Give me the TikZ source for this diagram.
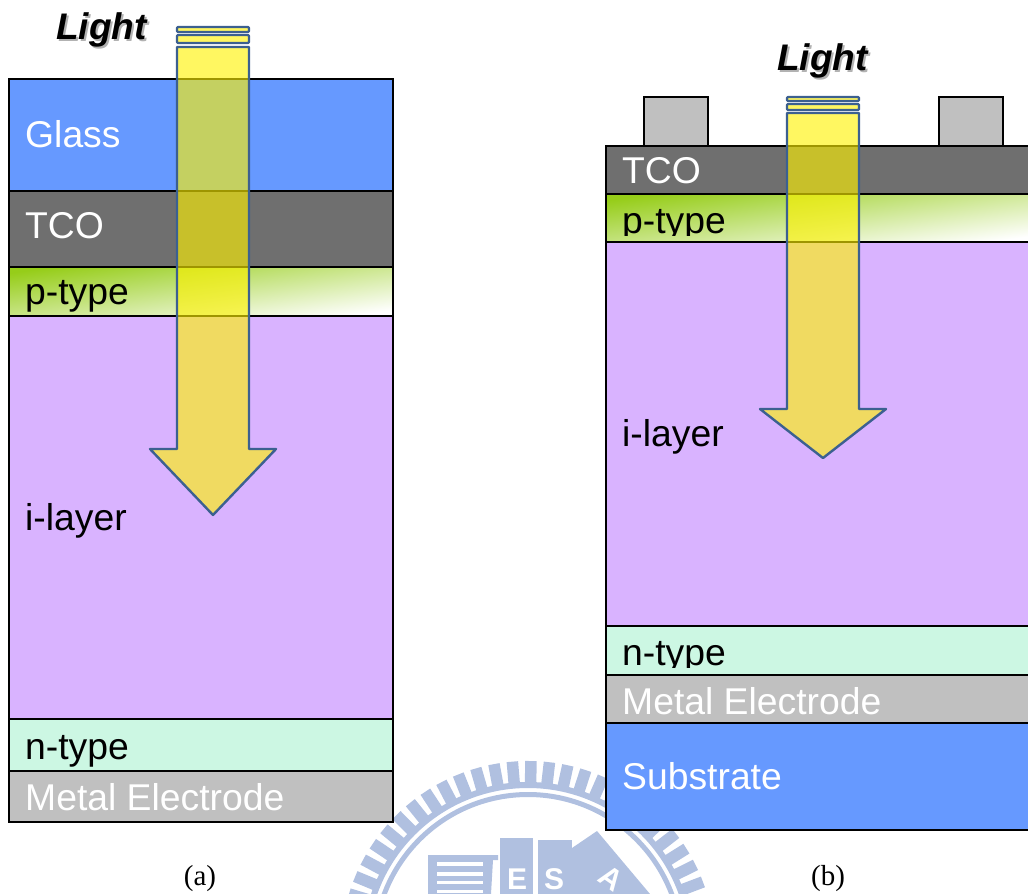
\documentclass[tikz,border=0pt]{standalone}
\usepackage{fontspec}
\setmainfont{Liberation Sans}
\newfontfamily\capfont{Liberation Serif}
\usepackage{xcolor}
\usetikzlibrary{positioning,calc}
\definecolor{glassblue}{RGB}{102,153,255}
\definecolor{tcogray}{RGB}{111,111,111}
\definecolor{ililac}{RGB}{217,179,255}
\definecolor{nmint}{RGB}{204,247,227}
\definecolor{metalgray}{RGB}{192,192,192}
\definecolor{pgreen}{RGB}{150,205,25}
\definecolor{beamedge}{RGB}{60,96,144}
\definecolor{sealblue}{RGB}{176,192,224}
\newcommand{\lightlabel}{\rlap{\hspace{2pt}\raisebox{-2pt}{\textcolor{black!30}{Light}}}Light}

\begin{document}
\begin{tikzpicture}[
x=1pt, y=-1pt,
lyr/.style={draw=black, line width=2pt, inner sep=0pt},
lyra/.style={lyr, minimum width=384},
lyrb/.style={lyr, minimum width=428},
lbl/.style={anchor=base west, inner sep=0pt, font=\fontsize{37.3}{40}\selectfont},
lightlbl/.style={anchor=base west, inner sep=0pt, font=\fontsize{37}{40}\selectfont\bfseries\itshape},
caplbl/.style={anchor=base, inner sep=0pt, font=\capfont\fontsize{29}{32}\selectfont},
beam/.style={draw=beamedge, line width=2.4pt, line join=round, fill=yellow, fill opacity=0.62},
sealletter/.style={anchor=base west, inner sep=0pt, text=white, font=\fontsize{30}{32}\selectfont\bfseries}
]
\useasboundingbox (0,0) rectangle (1028,894);

\begin{scope}
\clip (0,0) rectangle (1028,894);
\foreach \a in {-19.2,-13.5,...,200}
  \draw[sealblue, line width=11.5pt] ($(528,948)+(\a:162 and -162)$) -- ($(528,948)+(\a:187 and -187)$);
\draw[sealblue, line width=6pt] (528,948) circle (163);
\draw[sealblue, line width=5pt] (528,948) circle (153.5);
\fill[sealblue] (428,855) -- (498,855) -- (498,860) -- (493,860) -- (491,894) -- (428,894) -- cycle;
\foreach \y/\h in {862/4,872/4,881/3,890/3}
  \fill[white] (437,\y) rectangle (483,\y+\h);
\fill[sealblue] (500,838) rectangle (533,894);
\fill[sealblue] (538,840) rectangle (572,894);
\fill[sealblue] (572,848) -- (597,831) -- (650,894) -- (572,894) -- cycle;
\node[sealletter] (sealE) at (507,889) {E};
\node[sealletter] (sealS) at (544,889) {S};
\node[sealletter, rotate=-35] (sealA) at (596,880) {A};
\end{scope}

\node[lyra, fill=glassblue, minimum height=112] (glassA) at (201,135) {};
\node[lyra, fill=tcogray, minimum height=76] (tcoA) at (201,229) {};
\node[lyra, shading=axis, top color=pgreen, bottom color=white, shading angle=8, minimum height=49] (pA) at (201,291.5) {};
\node[lyra, fill=ililac, minimum height=403] (iA) at (201,517.5) {};
\node[lyra, fill=nmint, minimum height=52] (nA) at (201,745) {};
\node[lyra, fill=metalgray, minimum height=51] (metalA) at (201,796.5) {};

\node[lyr, fill=metalgray, minimum width=64, minimum height=49] (padL) at (676,121.5) {};
\node[lyr, fill=metalgray, minimum width=64, minimum height=49] (padR) at (971,121.5) {};
\node[lyrb, fill=tcogray, minimum height=48] (tcoB) at (820,170) {};
\node[lyrb, shading=axis, top color=pgreen, bottom color=white, shading angle=8, minimum height=48] (pB) at (820,218) {};
\node[lyrb, fill=ililac, minimum height=384] (iB) at (820,434) {};
\node[lyrb, fill=nmint, minimum height=49] (nB) at (820,650.5) {};
\node[lyrb, fill=metalgray, minimum height=48] (metalB) at (820,699) {};
\node[lyrb, fill=glassblue, minimum height=107] (subB) at (820,776.5) {};

\node[lbl, text=white] (glassAl) at (25,147) {Glass};
\node[lbl, text=white] (tcoAl) at (25,238) {TCO};
\node[lbl] (pAl) at (25,304) {p-type};
\node[lbl] (iAl) at (25,530) {i-layer};
\node[lbl] (nAl) at (25,759) {n-type};
\node[lbl, text=white] (metalAl) at (25,810) {Metal Electrode};

\node[lbl, text=white] (tcoBl) at (622,183) {TCO};
\begin{scope}
\clip (606,194) rectangle (1028,235);
\node[lbl] (pBl) at (622,233) {p-type};
\end{scope}
\node[lbl] (iBl) at (622,446) {i-layer};
\begin{scope}
\clip (606,626) rectangle (1028,667);
\node[lbl] (nBl) at (622,665) {n-type};
\end{scope}
\node[lbl, text=white] (metalBl) at (622,714) {Metal Electrode};
\node[lbl, text=white] (subBl) at (622,789) {Substrate};

\draw[beam, rounded corners=1pt] (177,27) rectangle (249,32);
\draw[beam, rounded corners=1pt] (177,35) rectangle (249,43);
\draw[beam] (177,47) -- (249,47) -- (249,449) -- (276,449) -- (213,515) -- (150,449) -- (177,449) -- cycle;

\draw[beam, rounded corners=1pt] (787,97) rectangle (859,101);
\draw[beam, rounded corners=1pt] (787,104) rectangle (859,110);
\draw[beam] (787,113) -- (859,113) -- (859,409) -- (886,409) -- (823,458) -- (760,409) -- (787,409) -- cycle;

\node[lightlbl] (lightA) at (56,39) {\lightlabel};
\node[lightlbl] (lightB) at (777,70) {\lightlabel};

\node[caplbl] (capA) at (200,885) {(a)};
\node[caplbl] (capB) at (828,885) {(b)};

\end{tikzpicture}
\end{document}
